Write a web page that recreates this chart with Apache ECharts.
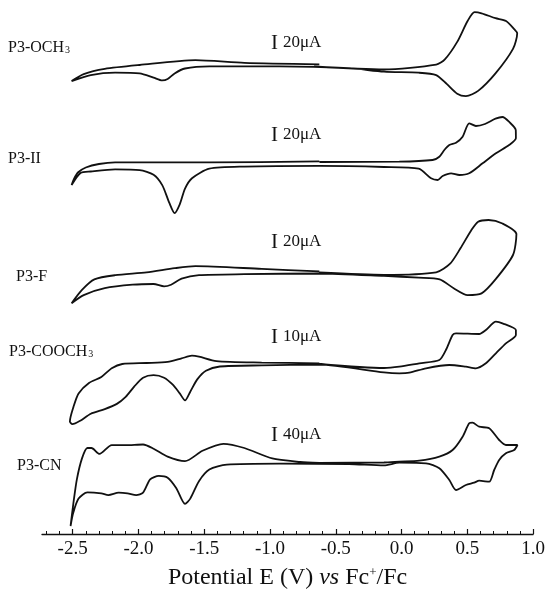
<!DOCTYPE html>
<html><head><meta charset="utf-8">
<script src="https://cdn.jsdelivr.net/npm/echarts@6/dist/echarts.min.js"></script>
<style>html,body{margin:0;padding:0;background:#fff}#c{width:548px;height:598px}</style>
</head><body><div id="c"></div>
<script>
// Potential (V vs Fc+/Fc), stacked current (arbitrary units incl. vertical offset)
const cvOCH3 = [[-0.625,469.7],[-1.195,471.1],[-1.567,473.9],[-1.991,469.0],[-2.256,465.1],[-2.416,459.9],[-2.508,452.9],
 [-2.362,458.9],[-2.177,461.3],[-1.991,460.6],[-1.885,456.4],[-1.819,453.6],[-1.778,455.0],[-1.725,460.6],[-1.646,465.5],
 [-1.461,467.6],[-0.930,467.6],[-0.400,465.8],[-0.134,462.3],[0.130,461.3],[0.263,458.9],[0.343,450.1],[0.423,440.3],
 [0.489,437.9],[0.582,443.1],[0.714,460.6],[0.847,485.1],[0.879,500.8],[0.860,504.3],[0.794,513.0],[0.714,515.8],
 [0.608,520.7],[0.555,521.8],[0.502,513.0],[0.423,492.1],[0.329,474.6],[0.263,469.3],[-0.134,464.5],[-0.665,467.5]];
const cvH = [[-0.625,372.6],[-1.461,371.6],[-2.177,371.6],[-2.300,370.0],[-2.400,366.5],[-2.460,361.5],[-2.490,355.0],[-2.508,348.9],
 [-2.440,361.0],[-2.362,362.5],[-2.177,364.6],[-1.991,363.9],[-1.885,359.3],[-1.819,348.9],[-1.766,331.4],[-1.725,320.9],
 [-1.686,329.6],[-1.646,345.4],[-1.593,355.8],[-1.461,365.3],[-1.195,367.4],[-0.625,368.1],[-0.134,367.0],[0.130,365.3],
 [0.224,355.7],[0.274,354.0],[0.312,358.0],[0.376,360.7],[0.439,359.0],[0.514,360.7],[0.616,370.7],[0.717,380.7],
 [0.818,389.0],[0.869,395.7],[0.868,404.0],[0.820,411.8],[0.767,417.0],[0.714,415.3],[0.634,410.0],[0.565,408.0],
 [0.514,410.7],[0.464,397.3],[0.414,391.3],[0.363,389.0],[0.325,384.0],[0.287,377.3],[0.236,374.0],[-0.017,372.3],[-0.624,372.0]];
const cvF = [[-0.625,262.6],[-1.063,265.1],[-1.567,267.9],[-1.725,265.8],[-1.938,261.6],[-2.177,258.8],[-2.335,254.6],
 [-2.429,244.1],[-2.508,230.8],[-2.416,238.9],[-2.256,245.8],[-2.044,249.3],[-1.885,250.0],[-1.805,247.6],[-1.752,249.3],
 [-1.672,255.3],[-1.540,258.8],[-1.195,259.8],[-0.625,260.5],[-0.134,258.1],[0.130,256.3],[0.290,254.6],[0.396,245.8],
 [0.502,238.9],[0.608,240.6],[0.714,254.6],[0.847,279.0],[0.873,300.0],[0.767,310.5],[0.661,314.0],[0.582,312.3],
 [0.529,303.5],[0.449,286.0],[0.369,270.3],[0.263,261.6],[-0.134,259.1],[-0.625,261.5]];
const cvCOOCH3 = [[-0.625,170.7],[-1.063,171.4],[-1.407,172.8],[-1.540,177.3],[-1.593,178.3],[-1.672,175.6],[-1.778,172.1],
 [-1.938,171.0],[-2.123,170.0],[-2.203,165.8],[-2.282,157.0],[-2.376,151.1],[-2.455,140.6],[-2.495,126.6],[-2.521,112.6],
 [-2.502,109.8],[-2.442,113.3],[-2.362,120.3],[-2.256,124.9],[-2.164,130.1],[-2.097,137.1],[-2.031,147.6],[-1.965,156.3],
 [-1.885,158.8],[-1.805,156.3],[-1.739,149.3],[-1.686,140.6],[-1.646,133.6],[-1.606,142.3],[-1.553,154.6],[-1.487,163.3],
 [-1.381,167.5],[-1.063,168.6],[-0.625,169.3],[-0.134,161.6],[-0.017,160.7],[0.059,161.3],[0.186,165.7],[0.363,169.0],
 [0.489,167.3],[0.565,165.7],[0.641,170.7],[0.717,180.7],[0.793,190.7],[0.869,199.0],[0.869,204.0],[0.767,210.7],
 [0.717,212.3],[0.641,204.0],[0.590,200.0],[0.414,200.7],[0.388,199.0],[0.337,184.0],[0.287,174.0],[0.135,170.7],
 [-0.017,167.3],[-0.134,166.0],[-0.625,170.0]];
const cvCN = [[-0.625,71.0],[-0.770,72.1],[-0.983,75.6],[-1.195,86.0],[-1.354,90.2],[-1.513,83.2],[-1.646,72.8],
 [-1.778,77.3],[-1.885,85.3],[-1.965,89.5],[-2.097,88.8],[-2.203,88.8],[-2.296,80.1],[-2.357,86.0],[-2.388,86.0],
 [-2.429,75.6],[-2.468,54.6],[-2.495,30.1],[-2.516,8.0],[-2.495,21.4],[-2.455,35.4],[-2.388,41.6],[-2.282,40.6],
 [-2.229,38.9],[-2.150,41.3],[-2.083,40.6],[-2.017,38.9],[-1.965,41.3],[-1.911,54.6],[-1.845,58.1],[-1.778,56.3],
 [-1.712,45.8],[-1.646,30.1],[-1.606,35.4],[-1.540,52.8],[-1.461,64.4],[-1.328,69.3],[-0.930,70.3],[-0.400,70.0],
 [-0.134,68.6],[-0.017,71.3],[0.186,70.7],[0.287,65.7],[0.363,54.0],[0.414,44.0],[0.489,49.0],[0.552,51.3],[0.590,53.3],
 [0.666,52.3],[0.704,64.0],[0.742,74.0],[0.793,80.7],[0.856,84.0],[0.881,89.0],[0.793,89.0],[0.742,94.0],[0.666,105.7],
 [0.590,107.3],[0.539,111.3],[0.514,110.7],[0.464,97.3],[0.388,84.0],[0.287,77.3],[0.135,73.3],[-0.017,72.3],
 [-0.134,71.5],[-0.625,71.2]];
const xTickLabels = [-2.5,-2.0,-1.5,-1.0,-0.5,0.0,0.5,1.0];
const xMinorTicks = [-2.7,-2.6,-2.5,-2.4,-2.3,-2.2,-2.1,-2.0,-1.9,-1.8,-1.7,-1.6,-1.5,-1.4,-1.3,-1.2,-1.1,-1.0,-0.9,-0.8,-0.7,-0.6,-0.5,-0.4,-0.3,-0.2,-0.1,0.0,0.1,0.2,0.3,0.4,0.5,0.6,0.7,0.8,0.9,1.0];
const curveNames = ['P3-OCH3','P3-II','P3-F','P3-COOCH3','P3-CN'];
const scaleTexts = ['20μA','20μA','20μA','10μA','40μA'];

const FF = '"Liberation Serif","Times New Roman",serif';
const chart = echarts.init(document.getElementById('c'), null, {renderer:'canvas'});
const curves = [cvOCH3, cvH, cvF, cvCOOCH3, cvCN];
const labelPos = [[8,46],[8,157],[16,275],[9,350],[17,464]];
const scalePos = [[271,43],[271,135],[271,242],[271,337],[271,435]];
function richName(n){
  const m = n.match(/^(.*?)(\d)$/);
  if (m && n.indexOf('CH')>=0) return '{m|'+m[1]+'}{s|'+m[2]+'}';
  return '{m|'+n+'}';
}
const graphics = [];
curveNames.forEach((n,i)=>{
  graphics.push({type:'text', x:labelPos[i][0], y:labelPos[i][1], silent:true,
    style:{text:richName(n), verticalAlign:'middle', fill:'#111',
      rich:{m:{fontSize:16,fontFamily:FF,fill:'#111',lineHeight:19,verticalAlign:'bottom'},
            s:{fontSize:10,fontFamily:FF,fill:'#111',lineHeight:10,verticalAlign:'bottom',padding:[0,0,0,1]}}}});
  graphics.push({type:'text', x:scalePos[i][0], y:scalePos[i][1], silent:true,
    style:{text:'{b|I}{t|'+scaleTexts[i]+'}', verticalAlign:'middle', fill:'#111',
      rich:{b:{fontSize:21,fontFamily:FF,fill:'#111',padding:[0,5,0,0]},t:{fontSize:17,fontFamily:FF,fill:'#111'}}}});
});
const xCommon = {type:'value', min:-2.733, max:1.0, position:'bottom'};
chart.setOption({
  animation:false,
  backgroundColor:'#fff',
  grid:{left:42,right:14,top:0,bottom:64,containLabel:false},
  xAxis:[
    Object.assign({}, xCommon, {
      axisLine:{show:true,lineStyle:{color:'#111',width:1.3}},
      axisTick:{show:true,inside:true,length:5,lineStyle:{color:'#111',width:1.2},customValues:xTickLabels},
      axisLabel:{show:true,margin:6,fontSize:19,fontFamily:FF,color:'#111',customValues:xTickLabels,
        formatter:v=>v.toFixed(1)},
      splitLine:{show:false},
      name:'Potential E (V) {i|vs} Fc{sup|+}/Fc', nameLocation:'middle', nameGap:32,
      nameTextStyle:{fontSize:24,fontFamily:FF,color:'#111',
        rich:{i:{fontSize:24,fontFamily:FF,fontStyle:'italic',color:'#111'},
              sup:{fontSize:13,fontFamily:FF,color:'#111',verticalAlign:'top',lineHeight:13}}}
    }),
    Object.assign({}, xCommon, {
      axisLine:{show:false},
      axisTick:{show:true,inside:true,length:3,lineStyle:{color:'#111',width:1},customValues:xMinorTicks},
      axisLabel:{show:false}, splitLine:{show:false}
    })
  ],
  yAxis:{type:'value', min:0, max:534, show:false},
  graphic:graphics,
  series: curves.map((d,i)=>({
    name:curveNames[i], type:'line', data:d, xAxisIndex:0, showSymbol:false, smooth:0.25,
    lineStyle:{color:'#111',width:1.8}, silent:true
  }))
});
</script></body></html>
